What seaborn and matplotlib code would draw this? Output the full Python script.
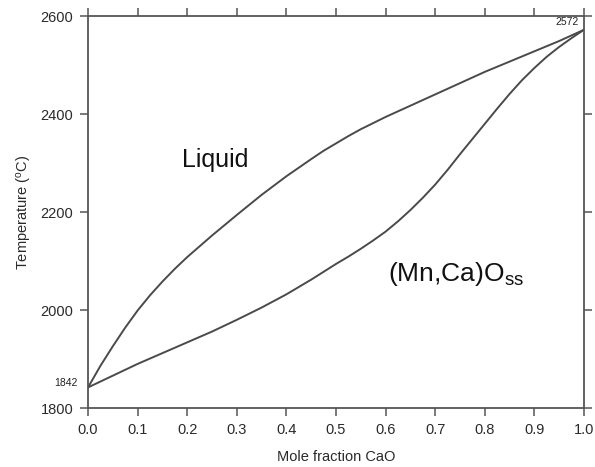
import matplotlib
matplotlib.use("Agg")
import matplotlib.pyplot as plt
import seaborn as sns
import pandas as pd

# MnO–CaO pseudo-binary phase diagram: liquidus and solidus (°C)
liquidus_x = [0.000, 0.025, 0.050, 0.075, 0.100, 0.125, 0.150, 0.175, 0.200,
              0.250, 0.300, 0.350, 0.400, 0.450, 0.475, 0.500, 0.525, 0.550,
              0.600, 0.650, 0.700, 0.750, 0.800, 0.850, 0.900, 0.950, 1.000]
liquidus_temp = [1842, 1886, 1926, 1964, 1999, 2030, 2058, 2084, 2108,
                 2152, 2194, 2235, 2273, 2308, 2325, 2340, 2355, 2369,
                 2394, 2417, 2440, 2463, 2486, 2507, 2528, 2549, 2572]

solidus_x = [0.000, 0.050, 0.100, 0.150, 0.200, 0.250, 0.300, 0.350, 0.400,
             0.450, 0.500, 0.525, 0.550, 0.575, 0.600, 0.625, 0.650, 0.675,
             0.700, 0.725, 0.750, 0.775, 0.800, 0.825, 0.850, 0.875, 0.900,
             0.925, 0.950, 0.975, 1.000]
solidus_temp = [1842, 1866, 1890, 1912, 1934, 1956, 1980, 2005, 2032,
                2062, 2094, 2109, 2125, 2142, 2160, 2181, 2204, 2229,
                2256, 2286, 2318, 2349, 2380, 2411, 2441, 2469, 2494,
                2517, 2537, 2555, 2572]

x_ticks = [0.0, 0.1, 0.2, 0.3, 0.4, 0.5, 0.6, 0.7, 0.8, 0.9, 1.0]
y_ticks = [1800, 2000, 2200, 2400, 2600]

df = pd.DataFrame({
    "x": liquidus_x + solidus_x,
    "T": liquidus_temp + solidus_temp,
    "curve": ["liquidus"] * len(liquidus_temp) + ["solidus"] * len(solidus_temp),
})

sns.set_theme(style="white")
plt.rcParams["font.family"] = ["Liberation Sans", "DejaVu Sans"]
plt.rcParams["mathtext.default"] = "regular"

fig = plt.figure(figsize=(5.95, 4.67), dpi=100)
ax = fig.add_axes([0.1479, 0.1263, 0.8336, 0.8394])

line_color = "#4a4a4a"
sns.lineplot(data=df, x="x", y="T", hue="curve", units="curve", estimator=None,
             palette={"liquidus": line_color, "solidus": line_color},
             linewidth=1.4, legend=False, ax=ax, sort=False,
             solid_joinstyle="round")

ax.set_xlim(0, 1.0)
ax.set_ylim(1800, 2600)
ax.set_xticks(x_ticks)
ax.set_xticklabels([f"{v:.1f}" for v in x_ticks])
ax.set_yticks(y_ticks)
ax.set_yticklabels([str(v) for v in y_ticks])

for side in ["left", "right", "top", "bottom"]:
    ax.spines[side].set_visible(True)
    ax.spines[side].set_color("#555555")
    ax.spines[side].set_linewidth(1.3)

ax.tick_params(axis="both", which="major", direction="out", length=5.5, width=1.1,
               color="#555555", labelsize=10.5, labelcolor="#2a2a2a", pad=5,
               top=True, right=True, bottom=True, left=True)

ax.set_xlabel("Mole fraction CaO", fontsize=10.5, color="#2a2a2a", labelpad=10)
ax.set_ylabel("Temperature ($^{o}$C)", fontsize=10.5, color="#2a2a2a", labelpad=5)

# Phase-field labels and end-member melting points
ax.text(0.256, 2306, "Liquid", fontsize=18, color="#111111", ha="center", va="center")
ax.text(0.742, 2074, "(Mn,Ca)O$_{ss}$", fontsize=19, color="#111111",
        ha="center", va="center")
ax.text(-0.022, 1851, "1842", fontsize=7.5, color="#222222", ha="right", va="center")
ax.text(0.99, 2588, "2572", fontsize=7.5, color="#222222", ha="right", va="center")

fig.savefig("out.png", dpi=100, facecolor="white")
